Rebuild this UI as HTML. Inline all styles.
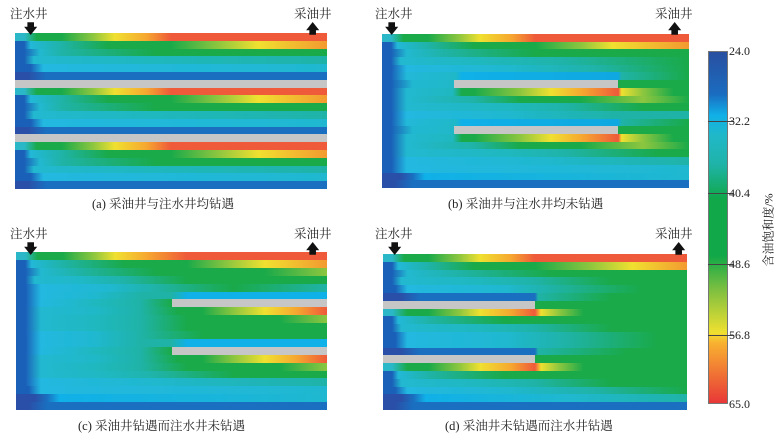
<!DOCTYPE html>
<html><head><meta charset="utf-8"><style>
body{margin:0;width:781px;height:441px;background:#fff;position:relative;overflow:hidden;font-family:"Liberation Serif","Noto Serif CJK SC",serif;}
.p{position:absolute;display:grid;grid-template-rows:repeat(20,1fr);}
.p>div{position:relative}
.g{position:absolute;top:0;bottom:0;background:#c6c6c6}
.t{position:absolute;font-size:12.5px;color:#222;white-space:nowrap}
.cap{position:absolute;font-size:12.5px;color:#222;white-space:nowrap}
.arr{position:absolute;font-size:13px;line-height:13px;color:#111;font-weight:bold}
.tk{position:absolute;left:729px;font-size:12px;color:#222}
.tl{position:absolute;left:708px;width:26px;height:1px;background:#444}
</style></head><body>

<!-- Panel A -->
<div class="p" style="left:15px;top:33px;width:312px;height:156px">
<div style="background:linear-gradient(90deg,#2ab8c8 0 3%,#1aaa4a 7%,#1aaa4a 15%,#8cc63f 25%,#f0e030 32%,#f6a830 42%,#ee5a3a 50%,#ee5a3a 100%)"></div>
<div style="background:linear-gradient(90deg,#1a60b8 0 3%,#22b8d8 5%,#1fb3a8 15%,#1aaa4a 30%,#1aaa4a 50%,#8cc63f 65%,#f0e030 78%,#f39a30 100%)"></div>
<div style="background:linear-gradient(90deg,#1a60b8 0 3%,#22b8d0 8%,#1fb3a8 15%,#1aaa4a 45%,#1aaa4a 100%)"></div>
<div style="background:linear-gradient(90deg,#1a60b8 0 3%,#22b8d0 6%,#1fb8c0 40%,#1fb3a8 100%)"></div>
<div style="background:linear-gradient(90deg,#1a5fb8 0 5%,#22b8e0 9%,#1fb8d0 100%)"></div>
<div style="background:linear-gradient(90deg,#2a4fa8 0 4%,#1a6fc0 10%,#1a6fc0 100%)"></div>
<div style="background:#c6c6c6"></div>
<div style="background:linear-gradient(90deg,#2ab8c8 0 3%,#1aaa4a 7%,#1aaa4a 15%,#8cc63f 25%,#f0e030 32%,#f6a830 42%,#ee5a3a 50%,#ee5a3a 100%)"></div>
<div style="background:linear-gradient(90deg,#1a60b8 0 3%,#22b8d8 5%,#1fb3a8 15%,#1aaa4a 30%,#1aaa4a 50%,#8cc63f 65%,#f0e030 78%,#f39a30 100%)"></div>
<div style="background:linear-gradient(90deg,#1a60b8 0 3%,#22b8d0 8%,#1fb3a8 15%,#1aaa4a 45%,#1aaa4a 100%)"></div>
<div style="background:linear-gradient(90deg,#1a60b8 0 3%,#22b8d0 6%,#1fb8c0 40%,#1fb3a8 100%)"></div>
<div style="background:linear-gradient(90deg,#1a5fb8 0 5%,#22b8e0 9%,#1fb8d0 100%)"></div>
<div style="background:linear-gradient(90deg,#2a4fa8 0 4%,#1a6fc0 10%,#1a6fc0 100%)"></div>
<div style="background:#c6c6c6"></div>
<div style="background:linear-gradient(90deg,#2ab8c8 0 3%,#1aaa4a 7%,#1aaa4a 15%,#8cc63f 25%,#f0e030 32%,#f6a830 42%,#ee5a3a 50%,#ee5a3a 100%)"></div>
<div style="background:linear-gradient(90deg,#1a60b8 0 3%,#22b8d8 5%,#1fb3a8 15%,#1aaa4a 30%,#1aaa4a 50%,#8cc63f 65%,#f0e030 78%,#f39a30 100%)"></div>
<div style="background:linear-gradient(90deg,#1a60b8 0 3%,#22b8d0 8%,#1fb3a8 15%,#1aaa4a 45%,#1aaa4a 100%)"></div>
<div style="background:linear-gradient(90deg,#1a60b8 0 3%,#22b8d0 6%,#1fb8c0 40%,#1fb3a8 100%)"></div>
<div style="background:linear-gradient(90deg,#1a5fb8 0 5%,#22b8e0 9%,#1fb8d0 100%)"></div>
<div style="background:linear-gradient(90deg,#2a4fa8 0 4%,#1a6fc0 10%,#1a6fc0 100%)"></div>
</div>

<!-- Panel B -->
<div class="p" style="left:382px;top:34px;width:307px;height:154px">
<div style="background:linear-gradient(90deg,#2ab8c8 0 3%,#1aaa4a 7%,#1aaa4a 15%,#8cc63f 25%,#f0e030 32%,#f6a830 42%,#ee5a3a 50%,#ee5a3a 100%)"></div>
<div style="background:linear-gradient(90deg,#1a60b8 0 3%,#22b8d8 5%,#1fb3a8 15%,#1aaa4a 30%,#1aaa4a 50%,#8cc63f 65%,#f0e030 75%,#f39a30 100%)"></div>
<div style="background:linear-gradient(90deg,#1a60b8 0 3%,#22b8d0 8%,#1fb3a8 20%,#1aaa4a 50%,#1aaa4a 100%)"></div>
<div style="background:linear-gradient(90deg,#1a60b8 0 3%,#22b8d0 6%,#1fb8c0 30%,#1fb3a8 60%,#1aaa4a 100%)"></div>
<div style="background:linear-gradient(90deg,#1a5fb8 0 3%,#22b8e0 8%,#1fb8d0 40%,#1fb3a8 70%,#1aaa4a 100%)"></div>
<div style="background:linear-gradient(90deg,#1a60b8 0 3%,#22b8d8 8%,#1fb8c8 24%,#10b0e8 26%,#10a8e0 77%,#1fb3a8 78%,#1aaa4a 100%)"></div>
<div style="background:linear-gradient(90deg,#1a60b8 0 3%,#20b8d0 10%,#20b8c8 24%,#1aaa4a 77%)"><div class="g" style="left:23.5%;right:23%"></div></div>
<div style="background:linear-gradient(90deg,#1a60b8 0 3%,#22b8d0 8%,#1fb8c0 23%,#1aaa4a 26%,#1aaa4a 30%,#8cc63f 45%,#f0e030 55%,#f6a830 65%,#ee5a3a 77%,#f0e030 78%,#8cc63f 85%,#1aaa4a 95%)"></div>
<div style="background:linear-gradient(90deg,#1a60b8 0 3%,#22b8d0 8%,#1fb3a8 30%,#1aaa4a 45%,#1aaa4a 65%,#8cc63f 85%,#1aaa4a 100%)"></div>
<div style="background:linear-gradient(90deg,#1a60b8 0 3%,#22b8d0 8%,#1fb8c0 40%,#1fb3a8 60%,#1aaa4a 85%)"></div>
<div style="background:linear-gradient(90deg,#1a5fb8 0 3%,#22b8e0 8%,#1fb8d0 40%,#1fb3a8 75%,#1fb3a8 95%)"></div>
<div style="background:linear-gradient(90deg,#1a60b8 0 3%,#22b8d8 8%,#1fb8c8 24%,#10b0e8 26%,#10a8e0 77%,#1fb3a8 78%,#1aaa4a 100%)"></div>
<div style="background:linear-gradient(90deg,#1a60b8 0 3%,#20b8d0 10%,#20b8c8 24%,#1aaa4a 77%)"><div class="g" style="left:23.5%;right:23%"></div></div>
<div style="background:linear-gradient(90deg,#1a60b8 0 3%,#22b8d0 8%,#1fb8c0 23%,#1aaa4a 26%,#1aaa4a 30%,#8cc63f 45%,#f0e030 55%,#f6a830 65%,#ee5a3a 77%,#f0e030 78%,#8cc63f 85%,#1aaa4a 95%)"></div>
<div style="background:linear-gradient(90deg,#1a60b8 0 3%,#22b8d0 8%,#1fb3a8 30%,#1aaa4a 45%,#1aaa4a 65%,#8cc63f 85%,#1aaa4a 100%)"></div>
<div style="background:linear-gradient(90deg,#1a60b8 0 3%,#22b8d0 8%,#1fb8c0 40%,#1fb3a8 60%,#1aaa4a 90%)"></div>
<div style="background:linear-gradient(90deg,#1a5fb8 0 3%,#22b8e0 8%,#1fb8d0 50%,#1fb3a8 100%)"></div>
<div style="background:linear-gradient(90deg,#1a5fb8 0 3%,#22b8e0 8%,#1fb8d0 100%)"></div>
<div style="background:linear-gradient(90deg,#2a4fa8 0 6%,#1a6fc0 10%,#10b0e8 14%,#1fb8d0 100%)"></div>
<div style="background:linear-gradient(90deg,#2a4fa8 0 4%,#1a6fc0 10%,#1a6fc0 100%)"></div>
</div>

<!-- Panel C -->
<div class="p" style="left:16px;top:252px;width:311px;height:158px">
<div style="background:linear-gradient(90deg,#2ab8c8 0 3%,#1aaa4a 7%,#1aaa4a 15%,#8cc63f 25%,#f0e030 32%,#f6a830 42%,#ee5a3a 55%,#ee5a3a 100%)"></div>
<div style="background:linear-gradient(90deg,#1a60b8 0 3%,#22b8d8 5%,#1fb3a8 15%,#1aaa4a 35%,#1aaa4a 55%,#8cc63f 68%,#f0e030 80%,#f39a30 100%)"></div>
<div style="background:linear-gradient(90deg,#1a60b8 0 3%,#22b8d0 8%,#1fb3a8 20%,#1aaa4a 45%,#1aaa4a 80%,#8cc63f 100%)"></div>
<div style="background:linear-gradient(90deg,#1a60b8 0 3%,#22b8d0 6%,#1fb8c8 20%,#1fb3a8 35%,#1aaa4a 55%)"></div>
<div style="background:linear-gradient(90deg,#1a5fb8 0 3%,#22b8e0 8%,#1fb8d0 30%,#1fb3a8 45%,#1aaa4a 70%,#1fb3a8 100%)"></div>
<div style="background:linear-gradient(90deg,#1a5fb8 0 3%,#22b8e0 8%,#1fb8d0 25%,#1fb3a8 40%,#1fb3a8 50%,#10b0e8 55%,#10b0e8 100%)"></div>
<div style="background:linear-gradient(90deg,#1a5fb8 0 3%,#22b8e0 8%,#1fb8c0 25%,#1fb3a8 40%,#1aaa4a 50%)"><div class="g" style="left:50%;right:0"></div></div>
<div style="background:linear-gradient(90deg,#1a60b8 0 3%,#22b8d0 8%,#1fb8c8 25%,#1fb3a8 40%,#1aaa4a 52%,#1aaa4a 60%,#8cc63f 70%,#f0e030 80%,#f6a830 90%,#ee5a3a 100%)"></div>
<div style="background:linear-gradient(90deg,#1a60b8 0 3%,#22b8d0 8%,#1fb8c0 25%,#1fb3a8 40%,#1aaa4a 55%,#1aaa4a 85%,#8cc63f 100%)"></div>
<div style="background:linear-gradient(90deg,#1a60b8 0 3%,#22b8d0 8%,#1fb8c0 25%,#1fb3a8 40%,#1aaa4a 55%)"></div>
<div style="background:linear-gradient(90deg,#1a5fb8 0 3%,#22b8e0 8%,#1fb8d0 25%,#1fb3a8 40%,#1aaa4a 60%)"></div>
<div style="background:linear-gradient(90deg,#1a5fb8 0 3%,#22b8e0 8%,#1fb8d0 25%,#1fb3a8 40%,#1fb3a8 50%,#10b0e8 55%,#10b0e8 100%)"></div>
<div style="background:linear-gradient(90deg,#1a5fb8 0 3%,#22b8e0 8%,#1fb8c0 25%,#1fb3a8 40%,#1aaa4a 50%)"><div class="g" style="left:50%;right:0"></div></div>
<div style="background:linear-gradient(90deg,#1a60b8 0 3%,#22b8d0 8%,#1fb8c8 25%,#1fb3a8 40%,#1aaa4a 52%,#1aaa4a 60%,#8cc63f 70%,#f0e030 80%,#f6a830 90%,#ee5a3a 100%)"></div>
<div style="background:linear-gradient(90deg,#1a60b8 0 3%,#22b8d0 8%,#1fb8c0 25%,#1fb3a8 40%,#1aaa4a 55%,#1aaa4a 85%,#8cc63f 100%)"></div>
<div style="background:linear-gradient(90deg,#1a60b8 0 3%,#22b8d0 8%,#1fb8c0 30%,#1fb3a8 45%,#1aaa4a 70%)"></div>
<div style="background:linear-gradient(90deg,#1a5fb8 0 3%,#22b8e0 8%,#1fb8d0 40%,#1fb3a8 100%)"></div>
<div style="background:linear-gradient(90deg,#1a5fb8 0 4%,#22b8e0 8%,#1fb8d0 100%)"></div>
<div style="background:linear-gradient(90deg,#2a4fa8 0 6%,#1a6fc0 10%,#10b0e8 14%,#1fb8d0 100%)"></div>
<div style="background:linear-gradient(90deg,#2a4fa8 0 4%,#1a6fc0 10%,#1a6fc0 100%)"></div>
</div>

<!-- Panel D -->
<div class="p" style="left:383px;top:254px;width:304px;height:156px">
<div style="background:linear-gradient(90deg,#2ab8c8 0 3%,#1aaa4a 7%,#1aaa4a 15%,#8cc63f 25%,#f0e030 32%,#f6a830 42%,#ee5a3a 50%,#ee5a3a 100%)"></div>
<div style="background:linear-gradient(90deg,#1a60b8 0 3%,#22b8d8 5%,#1fb3a8 15%,#1aaa4a 30%,#1aaa4a 50%,#8cc63f 68%,#f0e030 82%,#f39a30 100%)"></div>
<div style="background:linear-gradient(90deg,#1a60b8 0 3%,#22b8d0 8%,#1fb3a8 25%,#1aaa4a 55%,#1aaa4a 100%)"></div>
<div style="background:linear-gradient(90deg,#1a60b8 0 3%,#22b8d0 6%,#1fb8c0 30%,#1fb3a8 50%,#1aaa4a 75%)"></div>
<div style="background:linear-gradient(90deg,#1a5fb8 0 4%,#22b8e0 8%,#1fb8d0 40%,#1fb3a8 55%,#1aaa4a 85%)"></div>
<div style="background:linear-gradient(90deg,#2a4fa8 0 6%,#1a6fc0 12%,#1a6fc0 50%,#1fb3a8 51%,#1aaa4a 75%)"></div>
<div style="background:linear-gradient(90deg,#c6c6c6 0 50%,#1aaa4a 50%)"></div>
<div style="background:linear-gradient(90deg,#2ab8c8 0 3%,#1aaa4a 8%,#1aaa4a 15%,#8cc63f 25%,#f0e030 32%,#f6a830 42%,#ee5a3a 50%,#f0e030 52%,#8cc63f 58%,#1aaa4a 66%)"></div>
<div style="background:linear-gradient(90deg,#1a60b8 0 3%,#22b8d8 5%,#1fb3a8 15%,#1aaa4a 40%,#1aaa4a 100%)"></div>
<div style="background:linear-gradient(90deg,#1a60b8 0 3%,#22b8d0 6%,#1fb8c0 30%,#1fb3a8 50%,#1aaa4a 75%)"></div>
<div style="background:linear-gradient(90deg,#1a5fb8 0 4%,#22b8e0 8%,#1fb8d0 40%,#1fb3a8 60%,#1aaa4a 90%)"></div>
<div style="background:linear-gradient(90deg,#1a5fb8 0 4%,#22b8e0 8%,#1fb8d0 40%,#1fb3a8 60%,#1aaa4a 90%)"></div>
<div style="background:linear-gradient(90deg,#2a4fa8 0 6%,#1a6fc0 12%,#1a6fc0 50%,#1fb3a8 51%,#1aaa4a 80%)"></div>
<div style="background:linear-gradient(90deg,#c6c6c6 0 50%,#1aaa4a 50%)"></div>
<div style="background:linear-gradient(90deg,#2ab8c8 0 3%,#1aaa4a 8%,#1aaa4a 15%,#8cc63f 25%,#f0e030 32%,#f6a830 42%,#ee5a3a 50%,#f0e030 52%,#8cc63f 58%,#1aaa4a 66%)"></div>
<div style="background:linear-gradient(90deg,#1a60b8 0 3%,#22b8d8 5%,#1fb3a8 15%,#1aaa4a 40%,#1aaa4a 100%)"></div>
<div style="background:linear-gradient(90deg,#1a60b8 0 3%,#22b8d0 6%,#1fb8c0 30%,#1fb3a8 50%,#1aaa4a 75%)"></div>
<div style="background:linear-gradient(90deg,#1a5fb8 0 4%,#22b8e0 8%,#1fb8d0 40%,#1fb3a8 70%,#1aaa4a 100%)"></div>
<div style="background:linear-gradient(90deg,#2a4fa8 0 6%,#1a6fc0 10%,#10b0e8 14%,#1fb8d0 60%,#1fb3a8 100%)"></div>
<div style="background:linear-gradient(90deg,#2a4fa8 0 4%,#1a6fc0 10%,#1a6fc0 100%)"></div>
</div>

<!-- labels -->
<div class="t" style="left:10px;top:4px">注水井</div>
<div class="t" style="left:294px;top:4px">采油井</div>
<div class="t" style="left:375px;top:4px">注水井</div>
<div class="t" style="left:655px;top:4px">采油井</div>
<div class="t" style="left:10px;top:224px">注水井</div>
<div class="t" style="left:294px;top:224px">采油井</div>
<div class="t" style="left:375px;top:224px">注水井</div>
<div class="t" style="left:655px;top:224px">采油井</div>
<div class="arr" style="left:24px;top:22px">🡇</div>
<div class="arr" style="left:306px;top:22px">🡅</div>
<div class="arr" style="left:385px;top:22px">🡇</div>
<div class="arr" style="left:668px;top:22px">🡅</div>
<div class="arr" style="left:24px;top:242px">🡇</div>
<div class="arr" style="left:306px;top:242px">🡅</div>
<div class="arr" style="left:388px;top:242px">🡇</div>
<div class="arr" style="left:672px;top:242px">🡅</div>

<div class="cap" style="left:92px;top:194px">(a) 采油井与注水井均钻遇</div>
<div class="cap" style="left:448px;top:194px">(b) 采油井与注水井均未钻遇</div>
<div class="cap" style="left:78px;top:416px">(c) 采油井钻遇而注水井未钻遇</div>
<div class="cap" style="left:445px;top:416px">(d) 采油井未钻遇而注水井钻遇</div>

<!-- colorbar -->
<div style="position:absolute;left:708px;top:51px;width:20px;height:353px;border:1px solid #777;box-sizing:border-box;background:linear-gradient(180deg,#2a4fa0 0%,#1a6cc0 12%,#10b0e8 18%,#20b8c8 24%,#1fb3a8 32%,#10a848 42%,#10a848 58%,#80c040 68%,#f0e030 80%,#f8b030 83%,#e83838 100%)"></div>
<div class="tl" style="top:121px"></div>
<div class="tl" style="top:193px"></div>
<div class="tl" style="top:264px"></div>
<div class="tl" style="top:335px"></div>
<div class="tk" style="top:44px">24.0</div>
<div class="tk" style="top:114px">32.2</div>
<div class="tk" style="top:186px">40.4</div>
<div class="tk" style="top:257px">48.6</div>
<div class="tk" style="top:328px">56.8</div>
<div class="tk" style="top:397px">65.0</div>
<div style="position:absolute;left:768px;top:230px;transform:translate(-50%,-50%) rotate(-90deg);font-size:12px;color:#222;white-space:nowrap">含油饱和度/%</div>
</body></html>
